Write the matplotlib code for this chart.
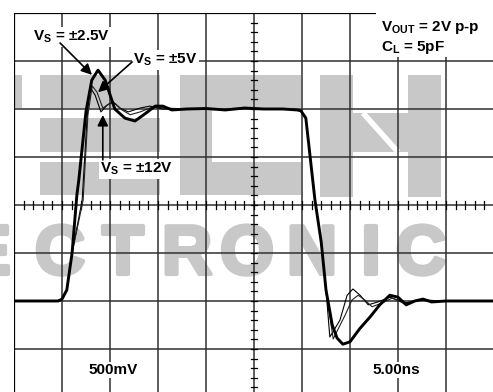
import matplotlib
matplotlib.use("Agg")
import matplotlib.pyplot as plt
import matplotlib.patheffects as pe
import numpy as np
from matplotlib.patches import Rectangle

plt.rcParams['font.family'] = ['Liberation Sans', 'DejaVu Sans']
plt.rcParams['mathtext.fontset'] = 'custom'
plt.rcParams['mathtext.rm'] = 'Liberation Sans:bold'
plt.rcParams['mathtext.it'] = 'Liberation Sans:bold'
plt.rcParams['mathtext.bf'] = 'Liberation Sans:bold'

# scope traces, in divisions (x: 10 div, y: -4..4 div, 500mV/div, 5ns/div)
t_25 = [0, 0.92, 1.0, 1.1, 1.21, 1.31, 1.35, 1.5, 1.62, 1.75, 1.9, 2.1, 2.31, 2.52,
        2.73, 2.94, 3.1, 3.29, 3.6, 4.0, 4.4, 4.8, 5.2, 5.6, 5.9, 5.98, 6.08, 6.27,
        6.4, 6.5, 6.63, 6.73, 6.85, 7.0, 7.2, 7.42, 7.62, 7.83, 8.0, 8.17, 8.35,
        8.52, 8.7, 9.0, 10.0]
v_25 = [-2.0, -2.0, -1.96, -1.77, -1.0, 0.21, 0.52, 1.95, 2.6, 2.81, 2.6, 2.0, 1.81, 1.75,
        1.9, 2.06, 2.06, 1.98, 2.0, 2.01, 1.98, 2.02, 2.0, 2.0, 1.98, 1.96, 1.81, 0.1,
        -0.77, -1.77, -2.5, -2.77, -2.9, -2.85, -2.58, -2.33, -2.08, -1.88, -1.92, -2.08, -2.0,
        -1.96, -2.02, -2.0, -2.0]

t_5 = [0, 0.92, 1.0, 1.1, 1.21, 1.44, 1.54, 1.63, 1.73, 1.85, 2.0, 2.1, 2.25, 2.42,
       2.63, 2.88, 3.15, 3.6, 4.0, 4.4, 4.8, 5.2, 5.6, 5.9, 5.98, 6.08, 6.27, 6.4,
       6.5, 6.65, 6.9, 7.04, 7.17, 7.31, 7.46, 7.67, 7.88, 8.15, 8.46, 9.0]
v_5 = [-2.0, -2.0, -1.96, -1.77, -1.0, 0.1, 1.88, 2.48, 2.35, 2.02, 2.12, 2.12, 1.98, 1.88,
       1.94, 2.04, 2.02, 2.0, 2.01, 1.98, 2.02, 2.0, 2.0, 1.98, 1.96, 1.81, 0.1, -0.77,
       -1.77, -2.79, -2.29, -1.98, -1.88, -1.98, -2.12, -2.04, -1.94, -2.06, -1.98, -2.0]

t_12 = [0, 0.92, 1.0, 1.1, 1.21, 1.42, 1.52, 1.58, 1.69, 1.81, 1.94, 2.06, 2.21, 2.38,
        2.63, 2.83, 3.1, 3.6, 4.0, 4.4, 4.8, 5.2, 5.6, 5.9, 5.98, 6.08, 6.27, 6.4,
        6.5, 6.58, 6.79, 6.94, 7.06, 7.21, 7.38, 7.58, 7.83, 8.15, 8.46, 9.0]
v_12 = [-2.0, -2.0, -1.96, -1.77, -1.0, 0.1, 1.77, 2.46, 2.29, 1.94, 2.08, 2.15, 2.02, 1.94,
        2.02, 2.06, 2.0, 2.0, 2.01, 1.98, 2.02, 2.0, 2.0, 1.98, 1.96, 1.81, 0.1, -0.77,
        -1.77, -2.75, -2.4, -1.88, -1.75, -1.88, -2.08, -2.02, -1.92, -2.04, -1.98, -2.0]

W, H = 493, 392
fig = plt.figure(figsize=(W / 100, H / 100), dpi=100)
ax = fig.add_axes([14 / W, -5 / H, 480 / W, 384 / H])
ax.set_xlim(0, 10)
ax.set_ylim(-4, 4)
ax.axis('off')


def px(x, y):
    # image pixel -> division coords
    return (x - 14) / 48, (205 - y) / 48


# watermark blocks
grey = '#c8c8c8'
blocks = [(0, 75, 22, 108), (40, 75, 160, 108), (40, 118, 160, 152), (40, 162, 160, 195),
          (180, 75, 301, 108), (180, 75, 212, 195), (180, 162, 301, 195),
          (320, 75, 353, 197), (353, 113, 408, 152), (408, 75, 441, 197)]
for x0, y0, x1, y1 in blocks:
    a = px(x0, y1)
    b = px(x1, y0)
    ax.add_patch(Rectangle(a, b[0] - a[0], b[1] - a[1], color=grey, lw=0, zorder=0))
d0, d1 = px(363, 113), px(398, 152)
ax.plot([d0[0], d1[0]], [d0[1], d1[1]], color='white', lw=4, zorder=0.5, solid_capstyle='butt')

# watermark word
letters = ['E', 'C', 'T', 'R', 'O', 'N', 'I', 'C']
letter_x = [-12, 60, 123, 187, 247, 312, 371, 421]
for ch, lx in zip(letters, letter_x):
    x, y = px(lx, 256)
    ax.text(x, y, ch, color=grey, fontsize=50, fontweight='bold', ha='center', va='center',
            zorder=0.5, path_effects=[pe.withStroke(linewidth=3, foreground=grey)])

# graticule
for gx in range(1, 10):
    ax.axvline(gx, color='#303030', lw=1.1, zorder=1)
for gy in range(-3, 4):
    ax.axhline(gy, color='#303030', lw=1.1, zorder=1)
ax.axvline(0, color='black', lw=1.6, zorder=1)
ax.axhline(4, color='black', lw=1.6, zorder=1)
ticks_x = np.arange(0.2, 10, 0.2)
ticks_y = np.arange(-3.8, 4, 0.2)
for tx in ticks_x:
    ax.plot([tx, tx], [-0.075, 0.075], color='black', lw=0.9, zorder=1)
for ty in ticks_y:
    ax.plot([4.93, 5.07], [ty, ty], color='black', lw=0.9, zorder=1)

# traces
ax.plot(t_12, v_12, color='black', lw=0.8, zorder=3)
ax.plot(t_5, v_5, color='#222222', lw=0.8, zorder=3)
ax.plot(t_25, v_25, color='black', lw=2.1, zorder=4)

box = dict(facecolor='white', edgecolor='none', pad=1.0)
fs = 11
ax.text(0.4, 3.5, r'V$_{\rm S}$ = ±2.5V', fontsize=fs, fontweight='bold', ha='left', va='center', bbox=box, zorder=5)
ax.text(2.48, 3.02, r'V$_{\rm S}$ = ±5V', fontsize=fs, fontweight='bold', ha='left', va='center', bbox=box, zorder=5)
ax.text(1.79, 0.75, r'V$_{\rm S}$ = ±12V', fontsize=fs, fontweight='bold', ha='left', va='center', bbox=box, zorder=5)
ax.text(2.06, -3.44, '500mV', fontsize=fs, fontweight='bold', ha='center', va='center', bbox=box, zorder=5)
ax.text(7.96, -3.44, '5.00ns', fontsize=fs, fontweight='bold', ha='center', va='center', bbox=box, zorder=5)
ax.add_patch(Rectangle(px(376, 57), 3, 44 / 48, color='white', lw=0, zorder=4.5))
ax.text(7.65, 3.69, r'V$_{\rm OUT}$ = 2V p-p', fontsize=fs, fontweight='bold', ha='left', va='center', zorder=5)
ax.text(7.65, 3.29, r'C$_{\rm L}$ = 5pF', fontsize=fs, fontweight='bold', ha='left', va='center', zorder=5)

arrow = dict(arrowstyle='-|>', color='black', lw=1.2, mutation_scale=16, shrinkA=0, shrinkB=0)
ax.annotate('', xy=(1.625, 2.71), xytext=(0.96, 3.375), arrowprops=arrow, zorder=6)
ax.annotate('', xy=(1.75, 2.35), xytext=(2.46, 2.98), arrowprops=arrow, zorder=6)
ax.annotate('', xy=(1.85, 1.875), xytext=(1.85, 0.94), arrowprops=arrow, zorder=6)

fig.savefig('out.png', dpi=100)
